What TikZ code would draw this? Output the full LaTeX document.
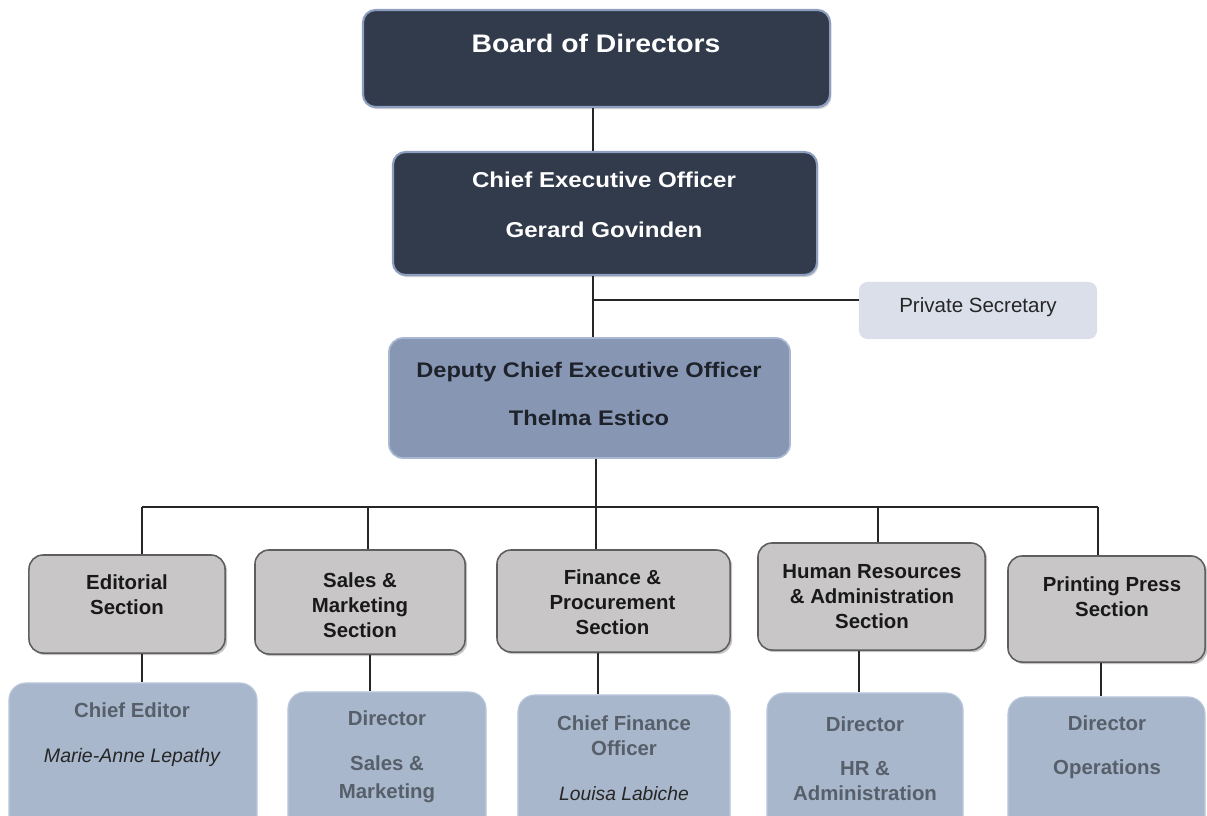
\documentclass[tikz,border=0pt]{standalone}
\usepackage{fontspec}
\setmainfont{Liberation Sans}
\newfontfamily\widesans[FakeStretch=1.12]{Liberation Sans}
\usetikzlibrary{shadows}

\definecolor{boardfill}{HTML}{323B4B}
\definecolor{boardedge}{HTML}{8D9EC0}
\definecolor{deputyfill}{HTML}{8796B2}
\definecolor{deputyedge}{HTML}{A9B8D2}
\definecolor{deputytext}{HTML}{1D222B}
\definecolor{secfill}{HTML}{DADFEA}
\definecolor{sectionfill}{HTML}{C8C6C6}
\definecolor{sectionedge}{HTML}{5E5E5E}
\definecolor{headfill}{HTML}{A8B7CB}
\definecolor{headedge}{HTML}{B9C8DC}
\definecolor{headtext}{HTML}{575F6A}

\begin{document}
\begin{tikzpicture}[x=0.025cm, y=-0.025cm,
    darkbox/.style={draw=boardedge, line width=1.5pt, fill=boardfill, rounded corners=9pt,
      drop shadow={shadow xshift=1pt, shadow yshift=-1.5pt, fill=black!35}},
    deputybox/.style={draw=deputyedge, line width=1.2pt, fill=deputyfill, rounded corners=10pt},
    secbox/.style={fill=secfill, rounded corners=6pt},
    sectionbox/.style={draw=sectionedge, line width=1.1pt, fill=sectionfill, rounded corners=10pt,
      drop shadow={shadow xshift=1.5pt, shadow yshift=-1.5pt, fill=black!45}},
    headbox/.style={draw=headedge, line width=0.8pt, fill=headfill, rounded corners=12pt},
    txt/.style={align=center, inner sep=0pt},
    toptext/.style={txt, text=white},
    sectiontext/.style={txt, text=black!90, font=\fontsize{14.5}{17.8}\selectfont\bfseries},
    headtext/.style={txt, text=headtext, font=\fontsize{14.5}{17.8}\selectfont\bfseries},
    link/.style={draw=black!85, line width=1.1pt}
  ]
  \useasboundingbox (0,0) rectangle (1207,815);

  % top of the chart
  \node[darkbox, minimum width=11.675cm, minimum height=2.425cm] (board) at (596.5,58.5) {};
  \node[toptext, font=\widesans\bfseries\fontsize{18}{21}\selectfont] (boardtxt) at (596,43) {Board of Directors};
  \node[darkbox, minimum width=10.6cm, minimum height=3.075cm] (ceo) at (605,213.5) {};
  \node[toptext, font=\widesans\bfseries\fontsize{15.3}{18}\selectfont] (ceotxt) at (604,205) {Chief Executive Officer\\[17.5pt]Gerard Govinden};
  \node[secbox, minimum width=5.95cm, minimum height=1.425cm] (psec) at (978,310.5) {};
  \node[txt, text=black!85, font=\fontsize{14.6}{17}\selectfont] (psectxt) at (978,307) {Private Secretary};
  \node[deputybox, minimum width=10.025cm, minimum height=3.0cm] (dep) at (589.5,398) {};
  \node[txt, text=deputytext, font=\widesans\bfseries\fontsize{15}{18}\selectfont] (deptxt) at (589,394) {Deputy Chief Executive Officer\\[16pt]Thelma Estico};

  % sections
  \node[sectionbox, minimum width=4.9cm, minimum height=2.45cm] (edit) at (127,604) {};
  \node[sectiontext] (edittxt) at (127,594.5) {Editorial\\Section};
  \node[sectionbox, minimum width=5.25cm, minimum height=2.6cm] (sales) at (360,602) {};
  \node[sectiontext] (salestxt) at (360,605) {Sales \&\\Marketing\\Section};
  \node[sectionbox, minimum width=5.825cm, minimum height=2.55cm] (fin) at (613.5,601) {};
  \node[sectiontext] (fintxt) at (612.5,602) {Finance \&\\Procurement\\Section};
  \node[sectionbox, minimum width=5.675cm, minimum height=2.675cm] (hr) at (871.5,596.5) {};
  \node[sectiontext] (hrtxt) at (872,597) {Human Resources\\\& Administration\\Section};
  \node[sectionbox, minimum width=4.925cm, minimum height=2.65cm] (print) at (1106.5,609) {};
  \node[sectiontext] (printtxt) at (1112,596.5) {Printing Press\\Section};

  % heads of the sections
  \node[headbox, minimum width=6.2cm, minimum height=3.8cm] (ce) at (133,759) {};
  \node[headtext] (cetxt) at (132,734.5) {Chief Editor\\[14pt]{\mdseries\itshape\color{black!85}\fontsize{13.9}{17}\selectfont Marie-Anne Lepathy}};
  \node[headbox, minimum width=4.95cm, minimum height=3.575cm] (sd) at (387,763.5) {};
  \node[headtext, font=\fontsize{14.5}{20}\selectfont\bfseries] (sdtxt) at (387,756.5) {Director\\[12pt]Sales \&\\Marketing};
  \node[headbox, minimum width=5.3cm, minimum height=3.5cm] (cfo) at (624,765) {};
  \node[headtext] (cfotxt) at (624,758) {Chief Finance\\Officer\\[14pt]{\mdseries\itshape\color{black!85}\fontsize{13.7}{17}\selectfont Louisa Labiche}};
  \node[headbox, minimum width=4.9cm, minimum height=3.55cm] (hrd) at (865,764) {};
  \node[headtext] (hrdtxt) at (865,758.5) {Director\\[13.5pt]HR \&\\Administration};
  \node[headbox, minimum width=4.925cm, minimum height=3.45cm] (od) at (1106.5,766) {};
  \node[headtext] (odtxt) at (1107,747) {Director\\[13.5pt]Operations};

  % connectors
  \coordinate (spine) at (593,0);
  \coordinate (psecjoin) at (593,300);
  \coordinate (mid) at (596,507);
  \coordinate (barL) at (142,507);
  \coordinate (barR) at (1098,507);
  \draw[link] (spine |- board.south) -- (spine |- ceo.north);
  \draw[link] (spine |- ceo.south) -- (spine |- dep.north);
  \draw[link] (psecjoin) -- (psecjoin -| psec.west);
  \draw[link] (mid |- dep.south) -- (mid);
  \draw[link] (barL) -- (barR);
  \foreach \n/\x in {edit/142, sales/368, fin/596, hr/878, print/1098}
    \draw[link] (\x,507) -- (\x,0 |- \n.north);
  \foreach \s/\l/\x in {edit/ce/142, sales/sd/370, fin/cfo/598, hr/hrd/859, print/od/1101}
    \draw[link] (\x,0 |- \s.south) -- (\x,0 |- \l.north);
\end{tikzpicture}
\end{document}
